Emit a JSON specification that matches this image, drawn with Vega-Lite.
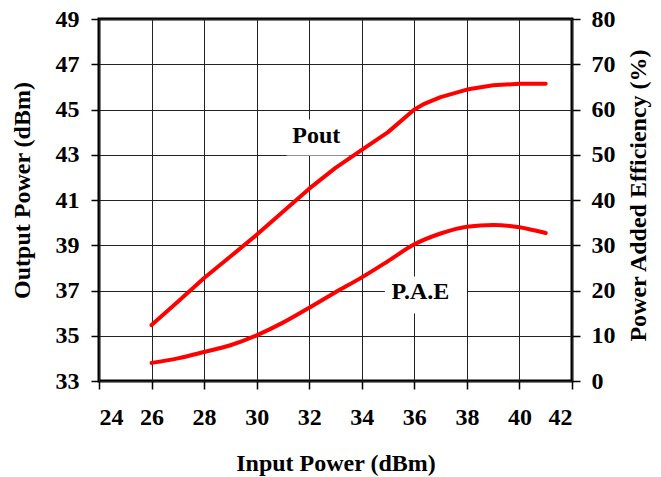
{
  "$schema": "https://vega.github.io/schema/vega-lite/v6.json",
  "width": 473,
  "height": 362,
  "autosize": {"type": "none"},
  "padding": {"left": 99, "top": 19, "right": 89, "bottom": 96},
  "background": "white",
  "config": {
    "view": {"stroke": "black", "strokeWidth": 3},
    "axis": {
      "labelFont": "Liberation Serif", "labelFontWeight": "bold", "labelFontSize": 24, "labelColor": "black",
      "titleFont": "Liberation Serif", "titleFontWeight": "bold", "titleFontSize": 24, "titleColor": "black",
      "tickColor": "black", "tickSize": 8, "tickWidth": 1.5, "domain": false,
      "gridColor": "#222222", "gridOpacity": 1, "gridWidth": 1
    }
  },
  "datasets": {
    "pout": [
      {"pin": 26, "dbm": 35.47}, {"pin": 27, "dbm": 36.5}, {"pin": 28, "dbm": 37.55}, {"pin": 29, "dbm": 38.5},
      {"pin": 30, "dbm": 39.46}, {"pin": 31, "dbm": 40.48}, {"pin": 32, "dbm": 41.5}, {"pin": 33, "dbm": 42.42},
      {"pin": 34, "dbm": 43.22}, {"pin": 35, "dbm": 44.0}, {"pin": 36, "dbm": 45.0}, {"pin": 36.4, "dbm": 45.26},
      {"pin": 37, "dbm": 45.55}, {"pin": 38, "dbm": 45.88}, {"pin": 39, "dbm": 46.07}, {"pin": 40, "dbm": 46.14},
      {"pin": 41, "dbm": 46.14}
    ],
    "pae": [
      {"pin": 26, "pct": 4.0}, {"pin": 27, "pct": 5.0}, {"pin": 28, "pct": 6.4}, {"pin": 29, "pct": 7.9},
      {"pin": 30, "pct": 10.1}, {"pin": 31, "pct": 12.9}, {"pin": 32, "pct": 16.2}, {"pin": 33, "pct": 19.6},
      {"pin": 34, "pct": 22.9}, {"pin": 35, "pct": 26.5}, {"pin": 36, "pct": 30.2}, {"pin": 37, "pct": 32.6},
      {"pin": 38, "pct": 34.1}, {"pin": 39, "pct": 34.5}, {"pin": 40, "pct": 34.0}, {"pin": 41, "pct": 32.7}
    ],
    "labels": [
      {"label": "Pout", "x": 32.27, "y": 43.83, "x1": 31.14, "x2": 33.54, "y1": 42.97, "y2": 44.56},
      {"label": "P.A.E", "x": 36.23, "y": 36.93, "x1": 34.88, "x2": 38.0, "y1": 35.98, "y2": 37.62}
    ]
  },
  "layer": [
    {
      "layer": [
        {
          "data": {"name": "labels"},
          "mark": {"type": "rect", "fill": "white", "stroke": null},
          "encoding": {
            "x": {"field": "x1", "type": "quantitative", "title": "Input Power (dBm)",
                  "scale": {"domain": [24, 42], "nice": false, "zero": false},
                  "axis": {"values": [24, 26, 28, 30, 32, 34, 36, 38, 40, 42], "grid": true, "labelPadding": 16, "titleY": 82, "titleBaseline": "middle"}},
            "x2": {"field": "x2"},
            "y": {"field": "y1", "type": "quantitative", "title": "Output Power (dBm)",
                  "scale": {"domain": [33, 49], "nice": false, "zero": false},
                  "axis": {"orient": "left", "values": [33, 35, 37, 39, 41, 43, 45, 47, 49], "grid": true, "labelPadding": 12,
                           "titleAngle": -90, "titleX": -77, "titleY": 171, "titleAlign": "center", "titleBaseline": "middle"}},
            "y2": {"field": "y2"}
          }
        },
        {
          "data": {"name": "labels"},
          "mark": {"type": "text", "font": "Liberation Serif", "fontWeight": "bold", "fontSize": 24, "color": "black", "align": "center", "baseline": "middle"},
          "encoding": {
            "x": {"field": "x", "type": "quantitative", "title": "Input Power (dBm)"},
            "y": {"field": "y", "type": "quantitative", "title": "Output Power (dBm)"},
            "text": {"field": "label"}
          }
        },
        {
          "data": {"name": "pout"},
          "mark": {"type": "line", "color": "#ff0000", "strokeWidth": 4, "interpolate": "linear", "strokeJoin": "round", "strokeCap": "round"},
          "encoding": {
            "x": {"field": "pin", "type": "quantitative", "title": "Input Power (dBm)"},
            "y": {"field": "dbm", "type": "quantitative", "title": "Output Power (dBm)"}
          }
        }
      ]
    },
    {
      "data": {"name": "pae"},
      "mark": {"type": "line", "color": "#ff0000", "strokeWidth": 4, "interpolate": "monotone", "strokeCap": "round"},
      "encoding": {
        "x": {"field": "pin", "type": "quantitative", "title": "Input Power (dBm)"},
        "y": {"field": "pct", "type": "quantitative", "title": "Power Added Efficiency (%)",
              "scale": {"domain": [0, 80], "nice": false},
              "axis": {"orient": "right", "values": [0, 10, 20, 30, 40, 50, 60, 70, 80], "grid": false, "labelPadding": 11,
                       "titleAngle": -90, "titleX": 66, "titleY": 176, "titleAlign": "center", "titleBaseline": "middle"}}
      }
    }
  ],
  "resolve": {"scale": {"y": "independent"}}
}
